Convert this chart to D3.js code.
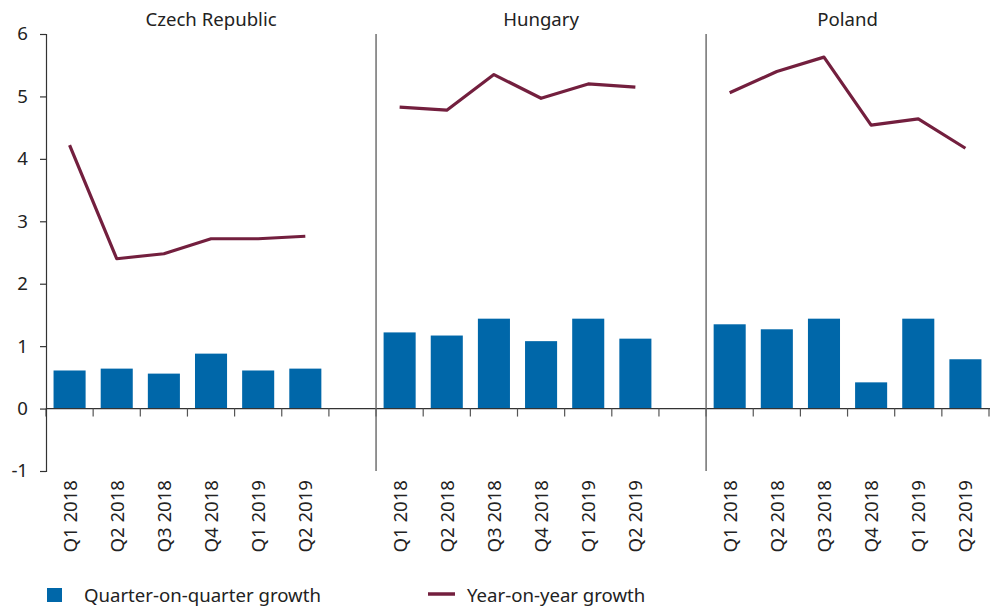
<!DOCTYPE html>
<html>
<head>
<meta charset="utf-8">
<script src="https://cdn.jsdelivr.net/npm/d3@7"></script>
<style>
  body { margin: 0; background: #fff; }
  text { font-family: "Noto Sans", sans-serif; fill: #222; }
</style>
</head>
<body>
<div id="chart"></div>
<script>
// data
const countries = ['Czech Republic', 'Hungary', 'Poland']
const quarters = ['Q1 2018', 'Q2 2018', 'Q3 2018', 'Q4 2018', 'Q1 2019', 'Q2 2019']
const qoqCzech = [0.61, 0.64, 0.56, 0.88, 0.61, 0.64]
const qoqHungary = [1.22, 1.17, 1.44, 1.08, 1.44, 1.12]
const qoqPoland = [1.35, 1.27, 1.44, 0.42, 1.44, 0.79]
const yoyCzech = [4.22, 2.40, 2.48, 2.72, 2.72, 2.76]
const yoyHungary = [4.83, 4.78, 5.35, 4.97, 5.20, 5.15]
const yoyPoland = [5.06, 5.40, 5.63, 4.54, 4.64, 4.17]
const yTicks = [-1, 0, 1, 2, 3, 4, 5, 6]

const qoq = [qoqCzech, qoqHungary, qoqPoland]
const yoy = [yoyCzech, yoyHungary, yoyPoland]

const width = 990, height = 608
const blue = '#0067a9', wine = '#731f3e'
const fontSize = '18.6px'

// one slot per quarter, plus an empty slot between panels
const slots = []
countries.forEach((c, ci) => {
    quarters.forEach(q => slots.push(c + '|' + q))
    if (ci < countries.length - 1) slots.push(c + '|gap')
})

const x = d3.scaleBand().domain(slots).range([46, 989]).paddingInner(0.32).paddingOuter(0.16)
const y = d3.scaleLinear().domain([-1, 6]).range([471, 34])
const step = x.step()
const left = k => x(k) - step * 0.16   // slot boundary

const svg = d3.select('#chart').append('svg')
    .attr('width', width)
    .attr('height', height)

// bars
const bars = []
countries.forEach((c, ci) => quarters.forEach((q, qi) => bars.push({ key: c + '|' + q, v: qoq[ci][qi] })))
svg.append('g').selectAll('rect')
    .data(bars).enter()
    .append('rect')
    .attr('x', d => x(d.key))
    .attr('width', x.bandwidth())
    .attr('y', d => y(Math.max(0, d.v)))
    .attr('height', d => Math.abs(y(d.v) - y(0)))
    .attr('fill', blue)

// lines, one per country
const line = d3.line()
    .x(d => x(d.key) + x.bandwidth() / 2)
    .y(d => y(d.v))
countries.forEach((c, ci) => {
    svg.append('path')
        .datum(quarters.map((q, qi) => ({ key: c + '|' + q, v: yoy[ci][qi] })))
        .attr('d', line)
        .attr('fill', 'none')
        .attr('stroke', wine)
        .attr('stroke-width', 3.2)
        .attr('stroke-linejoin', 'round')
})

// x axis line and ticks at slot boundaries
svg.append('line')
    .attr('x1', 46).attr('x2', 990)
    .attr('y1', y(0)).attr('y2', y(0))
    .attr('stroke', '#333').attr('stroke-width', 1.2)
const bounds = slots.map(left).concat([left(slots[slots.length - 1]) + step])
svg.append('g').selectAll('line')
    .data(bounds).enter()
    .append('line')
    .attr('x1', d => d).attr('x2', d => d)
    .attr('y1', y(0)).attr('y2', y(0) + 8)
    .attr('stroke', '#555').attr('stroke-width', 1.2)

// panel separators
const seps = countries.slice(1).map(c => left(c + '|' + quarters[0]))
svg.append('g').selectAll('line')
    .data(seps).enter()
    .append('line')
    .attr('x1', d => d).attr('x2', d => d)
    .attr('y1', y(6)).attr('y2', y(-1))
    .attr('stroke', '#666').attr('stroke-width', 1.4)

// y axis
const yAxis = svg.append('g')
    .attr('transform', 'translate(46,0)')
    .call(d3.axisLeft(y).tickValues(yTicks).tickSize(6).tickPadding(12).tickFormat(d => String(d)))
yAxis.select('.domain').attr('stroke', '#333').attr('stroke-width', 1.2)
yAxis.selectAll('.tick line').attr('stroke', '#333').attr('stroke-width', 1.2)
yAxis.selectAll('.tick text')
    .style('font-family', '"Noto Sans", sans-serif')
    .style('font-size', fontSize)
    .attr('fill', '#222')

// quarter labels, rotated
const labels = []
countries.forEach(c => quarters.forEach(q => labels.push({ key: c + '|' + q, q: q })))
svg.append('g').selectAll('text')
    .data(labels).enter()
    .append('text')
    .attr('transform', d => 'translate(' + (x(d.key) + x.bandwidth() / 2 + 7) + ',' + 480 + ') rotate(-90)')
    .attr('text-anchor', 'end')
    .style('font-size', fontSize)
    .text(d => d.q)

// panel titles
svg.append('g').selectAll('text')
    .data(countries).enter()
    .append('text')
    .attr('x', (c, i) => {
        const a = left(c + '|' + quarters[0])
        const b = i < countries.length - 1 ? left(countries[i + 1] + '|' + quarters[0]) : 989
        return (a + b) / 2
    })
    .attr('y', 26)
    .attr('text-anchor', 'middle')
    .style('font-size', fontSize)
    .text(d => d)

// legend
const legend = svg.append('g')
legend.append('rect')
    .attr('x', 47).attr('y', 588).attr('width', 15).attr('height', 14)
    .attr('fill', blue)
legend.append('text')
    .attr('x', 84).attr('y', 602)
    .style('font-size', fontSize)
    .text('Quarter-on-quarter growth')
legend.append('line')
    .attr('x1', 428).attr('x2', 455).attr('y1', 594).attr('y2', 594)
    .attr('stroke', wine).attr('stroke-width', 3.5)
legend.append('text')
    .attr('x', 467).attr('y', 602)
    .style('font-size', fontSize)
    .text('Year-on-year growth')
</script>
</body>
</html>
